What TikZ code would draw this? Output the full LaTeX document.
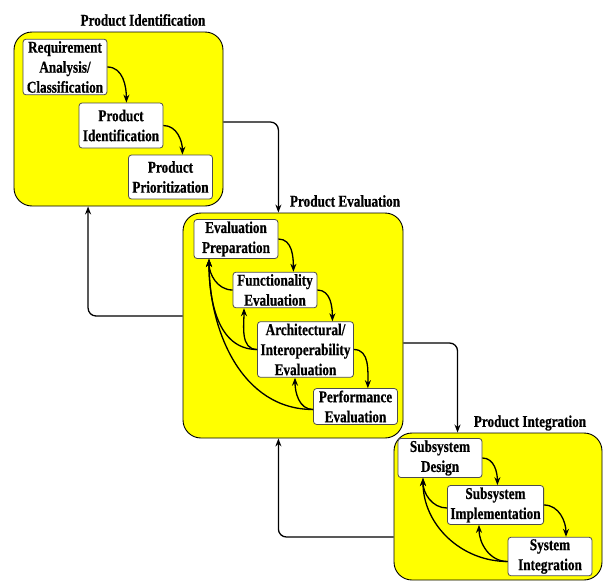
\documentclass[tikz,border=0pt]{standalone}
\usepackage{fontspec}
\newfontfamily\lblfont[FakeStretch=0.8,FakeBold=0.6]{Liberation Serif}
\usetikzlibrary{arrows.meta,calc,positioning}

\definecolor{stagefill}{RGB}{255,255,0}

\tikzset{
  stage/.style={draw=black, fill=stagefill, rounded corners=18pt, line width=0.9pt},
  task/.style={draw=black!70, fill=white, rounded corners=3pt, line width=0.8pt,
    align=center, inner xsep=3pt, inner ysep=2pt, minimum width=84pt,
    font=\lblfont\bfseries\fontsize{16.5}{20}\selectfont},
  title/.style={font=\lblfont\bfseries\fontsize{16.5}{20}\selectfont},
  flow/.style={-{Stealth[length=8pt,width=6pt]}, line width=1.3pt},
  link/.style={flow, rounded corners=8pt}
}

\begin{document}
\begin{tikzpicture}[x=1pt,y=-1pt]
  \useasboundingbox (0,0) rectangle (603,581);

  % the three stages
  \node[stage, minimum width=209pt, minimum height=174pt] (ident) at (118.5,119) {};
  \node[stage, minimum width=220pt, minimum height=225pt] (evalu) at (293,325.5) {};
  \node[stage, minimum width=208pt, minimum height=147pt] (integ) at (498,506.5) {};

  \node[title] (t-ident) at (143,20) {Product Identification};
  \node[title] (t-evalu) at (345,201) {Product Evaluation};
  \node[title] (t-integ) at (530,423) {Product Integration};

  % identification
  \node[task] (req) at (65,67) {Requirement\\Analysis/\\Classification};
  \node[task, minimum height=45pt] (pid) at (121,125.5) {Product\\Identification};
  \node[task, minimum height=44pt] (ppr) at (170.5,177) {Product\\Prioritization};

  % evaluation
  \node[task] (prep) at (236,239) {Evaluation\\Preparation};
  \node[task] (func) at (275,290) {Functionality\\Evaluation};
  \node[task] (arch) at (305.5,349.5) {Architectural/\\Interoperability\\Evaluation};
  \node[task] (perf) at (355.5,406.5) {Performance\\Evaluation};

  % integration
  \node[task] (sdes) at (440,458) {Subsystem\\Design};
  \node[task] (simp) at (495.5,505) {Subsystem\\Implementation};
  \node[task] (sint) at (550,556.5) {System\\Integration};

  % forward steps
  \draw[flow] (req.east) to[out=0,in=90] ($(req.east |- pid.north)+(19,0)$);
  \draw[flow] (pid.east) to[out=0,in=90] ($(pid.east |- ppr.north)+(19,0)$);
  \draw[flow] (prep.east) to[out=0,in=90] ($(prep.east |- func.north)+(15,0)$);
  \draw[flow] (func.east) to[out=0,in=90] ($(func.east |- arch.north)+(15,0)$);
  \draw[flow] (arch.east) to[out=0,in=90] ($(arch.east |- perf.north)+(14,0)$);
  \draw[flow] (sdes.east) to[out=0,in=90] ($(sdes.east |- simp.north)+(15,0)$);
  \draw[flow] (simp.east) to[out=0,in=90] ($(simp.east |- sint.north)+(22,0)$);

  % feedback
  \coordinate (prep-in) at ([xshift=-27pt]prep.south);
  \coordinate (func-in) at ([xshift=-31pt]func.south);
  \coordinate (arch-in) at ([xshift=-10.5pt]arch.south);
  \coordinate (sdes-in) at ([xshift=-17pt]sdes.south);
  \coordinate (simp-in) at ([xshift=-16.5pt]simp.south);

  \draw[flow] (func.west) to[out=180,in=-90] (prep-in);
  \draw[flow] (arch.west) to[out=180,in=-90] (prep-in);
  \draw[flow] (arch.west) to[out=180,in=-90] (func-in);
  \draw[flow] ([yshift=-3pt]perf.west) to[out=180,in=-90] (prep-in);
  \draw[flow] ([yshift=-3pt]perf.west) to[out=180,in=-90] (arch-in);

  \draw[flow] ([yshift=-3pt]simp.west) to[out=180,in=-90] (sdes-in);
  \draw[flow] ([yshift=-5pt]sint.west) to[out=180,in=-90] (sdes-in);
  \draw[flow] ([yshift=-5pt]sint.west) to[out=180,in=-90] (simp-in);

  % between stages
  \draw[link] ([yshift=-3pt]ident.east) -| (prep.east |- evalu.north);
  \draw[link] ([yshift=9.5pt]evalu.west) -| ($(ident.south west)!0.355!(ident.south east)$);
  \draw[link] ([yshift=-17.5pt]evalu.east) -| ($(integ.north west)+(64,0)$);
  \draw[link] ([yshift=-30.5pt]integ.west) -| (prep.east |- evalu.south);
\end{tikzpicture}
\end{document}
